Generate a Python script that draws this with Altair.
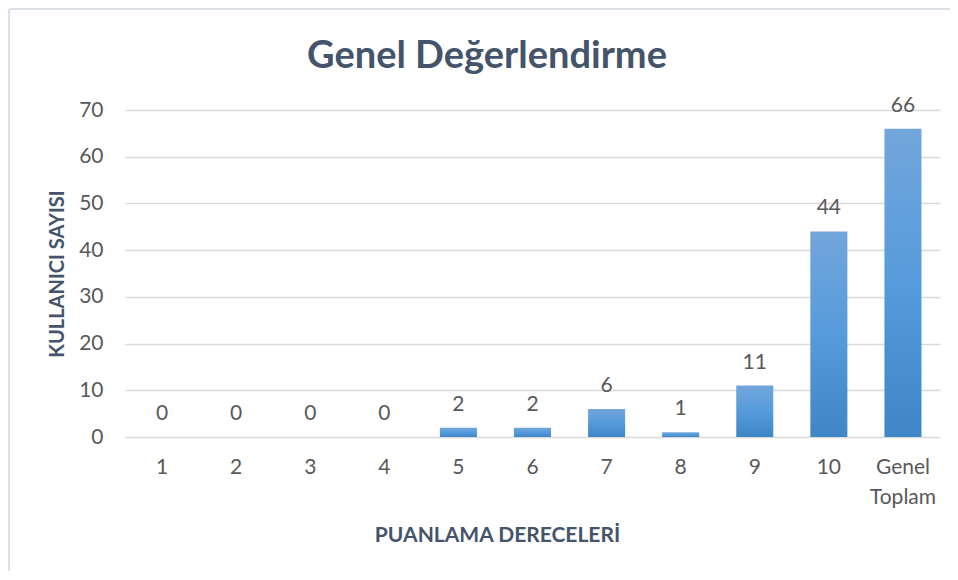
import altair as alt
import pandas as pd

categories = ["1", "2", "3", "4", "5", "6", "7", "8", "9", "10", "Genel Toplam"]
counts = [0, 0, 0, 0, 2, 2, 6, 1, 11, 44, 66]
y_ticks = [0, 10, 20, 30, 40, 50, 60, 70]
title_text = "Genel Değerlendirme"

df = pd.DataFrame({"cat": categories, "n": counts})

FONT = "Lato"
LABEL = "#595959"
DARK = "#44546A"

base = alt.Chart(df).encode(
    x=alt.X(
        "cat:N",
        sort=categories,
        scale=alt.Scale(paddingInner=0.5, paddingOuter=0.25),
        axis=alt.Axis(
            title="PUANLAMA DERECELERİ",
            labelAngle=0,
            labelExpr="split(datum.label, ' ')",
            labelFontSize=21,
            labelColor=LABEL,
            labelFont=FONT,
            labelPadding=19,
            labelLineHeight=30,
            domain=False,
            ticks=False,
            titleFont=FONT,
            titleFontSize=21,
            titleFontWeight="bold",
            titleColor=DARK,
            titleX=372,
            titleY=98,
            titleBaseline="middle",
        ),
    ),
    y=alt.Y(
        "n:Q",
        scale=alt.Scale(domain=[0, 70]),
        axis=alt.Axis(
            title="KULLANICI SAYISI",
            values=y_ticks,
            labelFontSize=21,
            labelColor=LABEL,
            labelFont=FONT,
            labelPadding=22,
            domain=False,
            ticks=False,
            gridColor="#D9D9D9",
            gridWidth=1.5,
            titleFont=FONT,
            titleFontSize=20,
            titleFontWeight="bold",
            titleColor=DARK,
            titlePadding=11,
        ),
    ),
)

bars = base.mark_bar(
    color=alt.Gradient(
        gradient="linear",
        x1=0, x2=0, y1=0, y2=1,
        stops=[
            alt.GradientStop(color="#72A6DB", offset=0),
            alt.GradientStop(color="#569BDB", offset=0.5),
            alt.GradientStop(color="#3F86C7", offset=1),
        ],
    ),
)

labels = base.mark_text(
    baseline="alphabetic", dy=-17, fontSize=21, font=FONT, color=LABEL
).encode(text="n:Q")

one = pd.DataFrame({"t": [title_text]})
title = alt.Chart(one).mark_text(
    fontSize=38, font=FONT, fontWeight="bold", color=DARK, baseline="middle", align="center"
).encode(text="t:N", x=alt.value(362), y=alt.value(-53))

top_line = alt.Chart(one).mark_rule(color="#DCE1E9", strokeWidth=2).encode(
    x=alt.value(-116), x2=alt.value(825), y=alt.value(-101)
)
left_line = alt.Chart(one).mark_rule(color="#DCE1E9", strokeWidth=2).encode(
    x=alt.value(-116), y=alt.value(-101), y2=alt.value(462)
)

chart = (
    alt.layer(top_line, left_line, bars, labels, title)
    .properties(
        width=815,
        height=327,
        autosize=alt.AutoSizeParams(type="none"),
        padding={"left": 117, "top": 102, "right": 10, "bottom": 134},
    )
    .configure_view(stroke=None)
)

chart.save("out.html", embed_options={"renderer": "svg", "actions": False})
